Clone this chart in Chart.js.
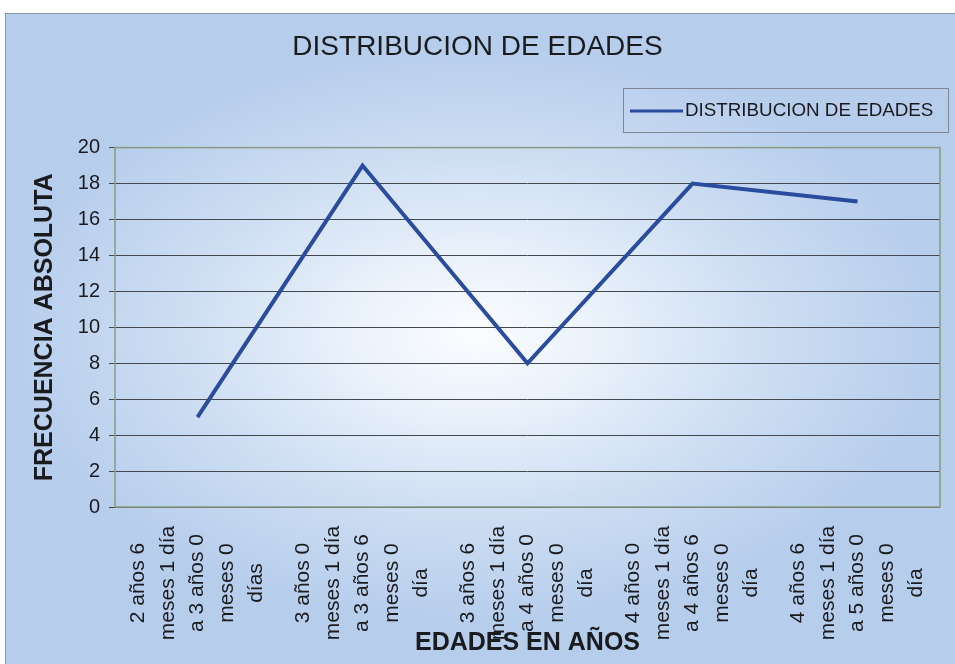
<!DOCTYPE html>
<html>
<head>
<meta charset="utf-8">
<title>DISTRIBUCION DE EDADES</title>
<script src="https://cdn.jsdelivr.net/npm/chart.js@4/dist/chart.umd.min.js"></script>
<style>
  html, body { margin: 0; padding: 0; background: #ffffff; }
  #wrap { position: absolute; left: 0; top: 0; width: 955px; height: 664px; overflow: hidden; }
  #frame {
    position: absolute; left: 5px; top: 13px; width: 960px; height: 660px;
    border: 1px solid #8d98a6;
    background: radial-gradient(ellipse 470px 290px at 468px 320px,
      #fbfdff 0%, #e9f1fb 28%, #cfdff3 60%, #b6cdec 100%);
  }
  canvas { position: absolute; left: 0; top: 0; }
</style>
</head>
<body>
<div id="wrap">
  <div id="frame"></div>
  <canvas id="chart" width="955" height="664"></canvas>
</div>
<script>
// Age ranges (one entry per category, split into the printed lines)
const categories = [
  ["2 años 6", "meses 1 día", "a 3 años 0", "meses 0", "días"],
  ["3 años 0", "meses 1 día", "a 3 años 6", "meses 0", "día"],
  ["3 años 6", "meses 1 día", "a 4 años 0", "meses 0", "día"],
  ["4 años 0", "meses 1 día", "a 4 años 6", "meses 0", "día"],
  ["4 años 6", "meses 1 día", "a 5 años 0", "meses 0", "día"]
];
// Absolute frequency per age range
const frecuencias = [5, 19, 8, 18, 17];
// Value axis range
const yMin = 0, yMax = 20, yStep = 2;

const seriesName = "DISTRIBUCION DE EDADES";
const textColor = "#1a1b1f";
const lineColor = "#2a4c9e";
const gridColor = "#44484f";
const plotBorder = "#8a9a82";
const FONT = "'Liberation Sans', Arial, sans-serif";

// Category labels: centred, rotated multi-line text under each category
const categoryLabels = {
  id: "categoryLabels",
  afterDraw(chart) {
    const ctx = chart.ctx;
    const xs = chart.scales.x;
    const lineGap = 29.5;
    const yc = 583;
    ctx.save();
    ctx.fillStyle = textColor;
    ctx.font = "21px " + FONT;
    ctx.textAlign = "center";
    ctx.textBaseline = "middle";
    chart.data.labels.forEach((lines, i) => {
      const x0 = xs.getPixelForValue(i);
      const n = lines.length;
      lines.forEach((txt, j) => {
        const x = x0 + (j - (n - 1) / 2) * lineGap;
        ctx.save();
        ctx.translate(x, yc);
        ctx.rotate(-Math.PI / 2);
        ctx.fillText(txt, 0, 0);
        ctx.restore();
      });
    });
    ctx.restore();
  }
};

// Frame around the plot area
const plotFrame = {
  id: "plotFrame",
  beforeDatasetsDraw(chart) {
    const { left, top, right, bottom } = chart.chartArea;
    const ctx = chart.ctx;
    ctx.save();
    ctx.strokeStyle = plotBorder;
    ctx.lineWidth = 1.5;
    ctx.strokeRect(left, top, right - left, bottom - top);
    ctx.restore();
  }
};

// Boxed legend in the upper right corner
const boxedLegend = {
  id: "boxedLegend",
  afterDraw(chart) {
    const ctx = chart.ctx;
    const ds = chart.data.datasets[0];
    const bx = 623, by = 88, bw = 325, bh = 44;
    ctx.save();
    ctx.strokeStyle = "#7f8794";
    ctx.lineWidth = 1;
    ctx.strokeRect(bx + 0.5, by + 0.5, bw, bh);
    const cy = by + bh / 2 + 1;
    ctx.strokeStyle = ds.borderColor;
    ctx.lineWidth = 3;
    ctx.beginPath();
    ctx.moveTo(630, cy);
    ctx.lineTo(683, cy);
    ctx.stroke();
    ctx.fillStyle = textColor;
    ctx.font = "18.8px " + FONT;
    ctx.textAlign = "left";
    ctx.textBaseline = "middle";
    ctx.fillText(ds.label, 685, cy);
    ctx.restore();
  }
};

new Chart(document.getElementById("chart"), {
  type: "line",
  data: {
    labels: categories,
    datasets: [{
      label: seriesName,
      data: frecuencias,
      borderColor: lineColor,
      backgroundColor: lineColor,
      borderWidth: 4,
      pointRadius: 0,
      tension: 0,
      fill: false
    }]
  },
  options: {
    responsive: false,
    animation: false,
    layout: { padding: { left: 15, right: 15, top: 0, bottom: 0 } },
    plugins: {
      legend: { display: false },
      tooltip: { enabled: false },
      title: {
        display: true,
        text: "DISTRIBUCION DE EDADES",
        color: textColor,
        font: { family: FONT, size: 28, weight: "normal" },
        padding: { top: 30, bottom: 84 }
      }
    },
    scales: {
      x: {
        offset: true,
        grid: { display: false },
        border: { display: false },
        ticks: { display: false },
        title: {
          display: true,
          text: "EDADES EN AÑOS",
          color: textColor,
          font: { family: FONT, size: 25, weight: "bold" },
          padding: { top: 0, bottom: 6 }
        },
        afterFit(scale) { scale.height = 157; }
      },
      y: {
        min: yMin,
        max: yMax,
        ticks: {
          stepSize: yStep,
          color: textColor,
          padding: 9,
          font: { family: FONT, size: 20 }
        },
        grid: {
          color: (c) => (c.tick && c.tick.value === yMax) ? "rgba(0,0,0,0)" : gridColor,
          lineWidth: 1,
          drawTicks: true,
          tickLength: 6,
          tickColor: gridColor
        },
        border: { display: false },
        title: {
          display: true,
          text: "FRECUENCIA ABSOLUTA",
          color: textColor,
          font: { family: FONT, size: 25, weight: "bold" },
          padding: { top: 15, bottom: 0 }
        },
        afterFit(scale) { scale.width = 100; }
      }
    }
  },
  plugins: [plotFrame, categoryLabels, boxedLegend]
});
</script>
</body>
</html>
